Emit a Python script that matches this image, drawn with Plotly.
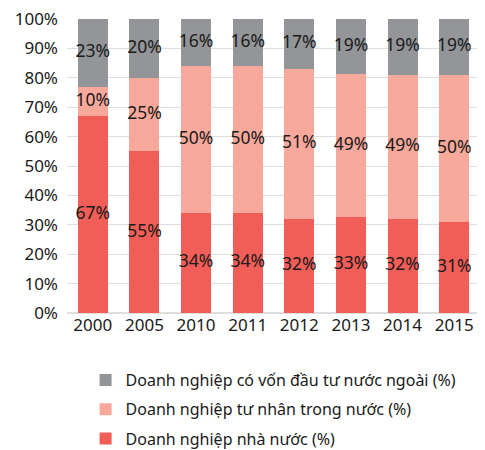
import plotly.graph_objects as go
import numpy as np

years = ["2000", "2005", "2010", "2011", "2012", "2013", "2014", "2015"]
state = [67, 55, 34, 34, 32, 33, 32, 31]
private = [10, 25, 50, 50, 51, 49, 49, 50]
foreign = [23, 20, 16, 16, 17, 19, 19, 19]

names = ["Doanh nghiệp nhà nước (%)",
         "Doanh nghiệp tư nhân trong nước (%)",
         "Doanh nghiệp có vốn đầu tư nước ngoài (%)"]
colors = ["#F15E58", "#F8A99B", "#939598"]

FONT = "Noto Sans"
series = [state, private, foreign]
arr = np.array(series, dtype=float)
norm = arr / arr.sum(axis=0) * 100

fig = go.Figure()
for i, (vals, nm, c) in enumerate(zip(norm, names, colors)):
    fig.add_trace(go.Bar(x=years, y=vals, name=nm, legendgroup=f"g{i}",
                         legendrank=3 - i,
                         marker=dict(color=c, line=dict(width=0)),
                         hoverinfo="skip"))

cum = np.cumsum(norm, axis=0)
for i, raw in enumerate(series):
    mid = cum[i] - norm[i] / 2
    fig.add_trace(go.Scatter(x=years, y=mid, mode="text",
                             text=[f"{v}%" for v in raw],
                             textfont=dict(family=FONT, size=17.5, color="#1a1a1a"),
                             showlegend=False, hoverinfo="skip"))

fig.update_layout(
    width=477, height=442,
    barmode="stack", bargap=0.42,
    margin=dict(l=59, r=5, t=11, b=137, autoexpand=False),
    plot_bgcolor="white", paper_bgcolor="white",
    font=dict(family=FONT, size=17, color="#1a1a1a"),
    legend=dict(traceorder="grouped", x=0.045, y=-0.17, xanchor="left", yanchor="top",
                font=dict(family=FONT, size=16, color="#1a1a1a"), tracegroupgap=5.5,
                itemwidth=30),
    xaxis=dict(type="category", showline=False, ticks="", tickfont=dict(size=17)),
    yaxis=dict(range=[0, 100], dtick=10, ticksuffix="%", showgrid=True,
               gridcolor="#dedede", gridwidth=1, zeroline=True, zerolinecolor="#dedede",
               tickfont=dict(size=17), ticks="", ticklabelstandoff=8,
               ticklabeloverflow="allow"),
)

fig.write_html("out.html")
